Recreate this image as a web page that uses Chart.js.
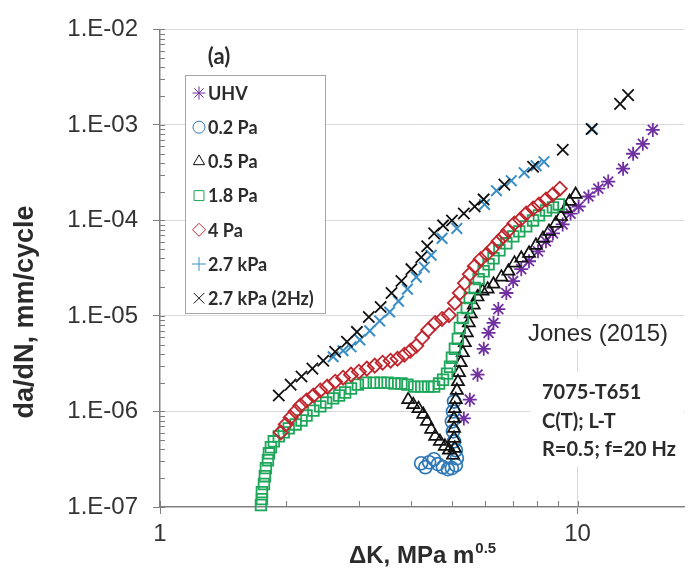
<!DOCTYPE html>
<html>
<head>
<meta charset="utf-8">
<script src="https://cdn.jsdelivr.net/npm/chart.js@4.4.1/dist/chart.umd.min.js"></script>
<style>
  html, body { margin: 0; padding: 0; background: #fff; }
  #wrap { width: 694px; height: 569px; }
</style>
</head>
<body>
<div id="wrap"><canvas id="fcg" width="694" height="569"></canvas></div>
<script>
'use strict';

// ── axis ticks
const dkTicks        = [1, 10];
const dkTickLabels   = ['1', '10'];
const rateTicks      = [1e-7, 1e-6, 1e-5, 1e-4, 1e-3, 1e-2];
const rateTickLabels = ['1.E-07', '1.E-06', '1.E-05', '1.E-04', '1.E-03', '1.E-02'];

const seriesNames = ['UHV', '0.2 Pa', '0.5 Pa', '1.8 Pa', '4 Pa', '2.7 kPa', '2.7 kPa (2Hz)'];

// ── ΔK (MPa m^0.5) vs da/dN (mm/cycle), one pair of arrays per environment
const uhvDK   = [5.34, 5.52, 5.76, 5.96, 6.12, 6.29, 6.46, 6.75, 7.01, 7.33, 7.65, 8.04, 8.40, 8.73, 9.21, 9.62, 10.06, 10.62, 11.21, 11.84, 12.85, 13.58, 14.33, 15.14];
const uhvRate = [8.45e-7, 1.33e-6, 2.43e-6, 4.53e-6, 6.65e-6, 8.45e-6, 1.18e-5, 1.74e-5, 2.32e-5, 3.09e-5, 3.74e-5, 4.75e-5, 6.04e-5, 7.32e-5, 9.09e-5, 1.18e-4, 1.40e-4, 1.78e-4, 2.15e-4, 2.55e-4, 3.48e-4, 4.99e-4, 6.34e-4, 8.87e-4];

const pa02DK   = [4.22, 4.32, 4.41, 4.53, 4.63, 4.76, 4.89, 5.00, 5.11, 5.14, 5.11, 5.06, 5.03, 5.00, 5.03, 5.06];
const pa02Rate = [2.87e-7, 2.61e-7, 2.94e-7, 3.16e-7, 2.81e-7, 2.61e-7, 2.49e-7, 2.55e-7, 2.74e-7, 3.24e-7, 3.93e-7, 4.87e-7, 6.19e-7, 7.86e-7, 1.0e-6, 1.27e-6];

const pa05DK   = [3.93, 4.04, 4.16, 4.27, 4.36, 4.46, 4.56, 4.68, 4.81, 4.92, 5.03, 5.08, 5.06, 5.06, 5.06, 5.08, 5.11, 5.14, 5.17, 5.20, 5.25, 5.31, 5.37, 5.43, 5.49, 5.55, 5.64, 5.76, 5.92, 6.09, 6.29, 6.57, 6.83, 7.06, 7.33, 7.65, 7.95, 8.26, 8.54, 8.87, 9.12, 9.37, 9.57, 9.89];
const pa05Rate = [1.33e-6, 1.18e-6, 1.07e-6, 9.31e-7, 7.86e-7, 6.49e-7, 5.49e-7, 4.87e-7, 4.32e-7, 3.93e-7, 3.48e-7, 4.12e-7, 5.24e-7, 6.65e-7, 8.45e-7, 1.07e-6, 1.33e-6, 1.66e-6, 2.05e-6, 2.55e-6, 3.24e-6, 4.12e-6, 5.24e-6, 6.65e-6, 8.45e-6, 1.05e-5, 1.30e-5, 1.58e-5, 1.82e-5, 1.91e-5, 2.15e-5, 2.55e-5, 2.94e-5, 3.57e-5, 4.02e-5, 4.53e-5, 5.49e-5, 6.49e-5, 7.68e-5, 9.31e-5, 1.10e-4, 1.33e-4, 1.58e-4, 1.87e-4];

const pa18DK   = [1.745, 1.754, 1.754, 1.774, 1.783, 1.793, 1.813, 1.823, 1.843, 1.873, 1.925, 1.978, 2.033, 2.112, 2.182, 2.243, 2.330, 2.420, 2.500, 2.598, 2.685, 2.775, 2.867, 2.978, 3.111, 3.250, 3.376, 3.508, 3.645, 3.786, 3.913, 4.064, 4.223, 4.387, 4.533, 4.659, 4.762, 4.867, 4.948, 5.001, 5.083, 5.167, 5.224, 5.311, 5.428, 5.518, 5.670, 5.795, 5.956, 6.121, 6.290, 6.498, 6.750, 7.015, 7.249, 7.532, 7.822, 8.082, 8.401, 8.727, 9.016];
const pa18Rate = [1.05e-7, 1.21e-7, 1.43e-7, 1.74e-7, 2.10e-7, 2.55e-7, 3.09e-7, 3.65e-7, 4.22e-7, 4.87e-7, 5.49e-7, 6.04e-7, 6.65e-7, 7.32e-7, 8.06e-7, 9.08e-7, 1.02e-6, 1.13e-6, 1.24e-6, 1.37e-6, 1.47e-6, 1.58e-6, 1.74e-6, 1.91e-6, 2.00e-6, 2.00e-6, 2.00e-6, 2.00e-6, 1.96e-6, 1.96e-6, 1.91e-6, 1.82e-6, 1.82e-6, 1.82e-6, 1.82e-6, 1.96e-6, 2.15e-6, 2.49e-6, 2.94e-6, 3.65e-6, 4.53e-6, 5.76e-6, 7.50e-6, 9.53e-6, 1.21e-5, 1.54e-5, 1.96e-5, 2.43e-5, 2.94e-5, 3.48e-5, 4.02e-5, 4.87e-5, 5.76e-5, 6.81e-5, 7.68e-5, 8.66e-5, 1.0e-4, 1.13e-4, 1.27e-4, 1.37e-4, 1.47e-4];

const pa4DK   = [1.946, 2.000, 2.055, 2.112, 2.170, 2.243, 2.330, 2.420, 2.514, 2.627, 2.744, 2.867, 2.994, 3.128, 3.268, 3.413, 3.566, 3.705, 3.848, 3.978, 4.110, 4.246, 4.387, 4.558, 4.736, 4.920, 5.083, 5.224, 5.370, 5.518, 5.670, 5.858, 6.053, 6.254, 6.462, 6.640, 6.825, 7.055, 7.289, 7.532, 7.822, 8.082, 8.401, 8.727, 9.066];
const pa4Rate = [6.04e-7, 7.32e-7, 8.66e-7, 1.0e-6, 1.155e-6, 1.30e-6, 1.47e-6, 1.66e-6, 1.82e-6, 2.05e-6, 2.26e-6, 2.43e-6, 2.61e-6, 2.81e-6, 3.02e-6, 3.24e-6, 3.40e-6, 3.57e-6, 3.93e-6, 4.32e-6, 4.87e-6, 5.90e-6, 7.15e-6, 8.45e-6, 9.31e-6, 1.02e-5, 1.37e-5, 1.74e-5, 2.21e-5, 2.74e-5, 3.32e-5, 3.93e-5, 4.42e-5, 5.11e-5, 6.04e-5, 6.81e-5, 7.86e-5, 9.31e-5, 1.02e-4, 1.18e-4, 1.33e-4, 1.47e-4, 1.66e-4, 1.87e-4, 2.15e-4];

const kpaDK   = [2.598, 2.744, 2.867, 3.010, 3.179, 3.358, 3.547, 3.725, 3.913, 4.110, 4.294, 4.460, 4.736, 5.139, 5.988, 6.393, 6.937, 7.448, 7.953, 8.307, 10.85];
const kpaRate = [3.74e-6, 4.32e-6, 4.75e-6, 5.62e-6, 6.98e-6, 8.87e-6, 1.10e-5, 1.43e-5, 1.91e-5, 2.55e-5, 3.24e-5, 4.32e-5, 6.49e-5, 8.25e-5, 1.47e-4, 2.05e-4, 2.61e-4, 3.16e-4, 3.74e-4, 4.12e-4, 9.08e-4];

const kpa2DK   = [1.925, 2.055, 2.182, 2.317, 2.460, 2.627, 2.804, 2.962, 3.162, 3.376, 3.585, 3.786, 4.000, 4.223, 4.364, 4.533, 4.762, 5.001, 5.340, 5.670, 5.956, 6.677, 7.822, 9.214, 10.80, 12.64, 13.21];
const kpa2Rate = [1.47e-6, 1.91e-6, 2.32e-6, 2.81e-6, 3.40e-6, 4.22e-6, 5.36e-6, 6.81e-6, 9.77e-6, 1.24e-5, 1.74e-5, 2.32e-5, 3.09e-5, 4.12e-5, 5.36e-5, 7.32e-5, 8.87e-5, 1.0e-4, 1.18e-4, 1.40e-4, 1.66e-4, 2.37e-4, 3.65e-4, 5.49e-4, 9.08e-4, 1.66e-3, 2.05e-3];

// marker look per series (legend shape can differ from plotted shape)
const markers = [
  { style: 'star',      legend: 'star',      color: '#7030a0', r: 7,   lw: 1.8 },
  { style: 'circle',    legend: 'circle',    color: '#2e78b7', r: 6.5, lw: 1.7 },
  { style: 'triangle',  legend: 'triangle',  color: '#111111', r: 7,   lw: 1.7 },
  { style: 'rect',      legend: 'rect',      color: '#1ea65a', r: 7.5, lw: 1.8 },
  { style: 'rectRot',   legend: 'rectRot',   color: '#c0262d', r: 7,   lw: 1.8 },
  { style: 'crossRot',  legend: 'cross',     color: '#3a8ec6', r: 7.5, lw: 2 },
  { style: 'crossRot',  legend: 'crossRot',  color: '#111111', r: 8,   lw: 1.8 },
];

const FONT_SANS  = '"Liberation Sans", Arial, sans-serif';
const FONT_LABEL = 'Lato, "Open Sans", sans-serif';
const AXIS_GREY  = '#7f7f7f';
const TEXT_DARK  = '#2b2b2b';

const pts = (xs, ys) => xs.map((x, i) => ({ x, y: ys[i] }));
const seriesData = [
  pts(uhvDK, uhvRate), pts(pa02DK, pa02Rate), pts(pa05DK, pa05Rate), pts(pa18DK, pa18Rate),
  pts(pa4DK, pa4Rate), pts(kpaDK, kpaRate), pts(kpa2DK, kpa2Rate),
];

const datasets = seriesData.map((data, i) => ({
  label: seriesNames[i],
  data,
  pointStyle: markers[i].style,
  pointRadius: markers[i].r,
  pointHoverRadius: markers[i].r,
  pointBorderWidth: markers[i].lw,
  pointBorderColor: markers[i].color,
  pointBackgroundColor: 'rgba(0,0,0,0)',
  showLine: false,
  clip: false,
  order: seriesData.length - i,   // later series drawn on top
}));

// minor ticks inside the frame + the annotation boxes, under the markers
const underlay = {
  id: 'underlay',
  beforeDatasetsDraw(chart) {
    const { ctx, chartArea: a, scales: { x, y } } = chart;
    ctx.save();
    ctx.strokeStyle = AXIS_GREY;
    ctx.lineWidth = 1;
    ctx.beginPath();
    for (let d = 1e-7; d < 1.5e-2; d *= 10) {
      for (let k = 1; k <= 9; k++) {
        const v = d * k;
        if (v > 1.01e-2) break;
        const py = Math.round(y.getPixelForValue(v)) + 0.5;
        ctx.moveTo(a.left, py); ctx.lineTo(a.left + 5, py);
      }
    }
    for (let d = 1; d < 20; d *= 10) {
      for (let k = 1; k <= 9; k++) {
        const v = d * k;
        if (v > x.max) break;
        const px = Math.round(x.getPixelForValue(v)) + 0.5;
        ctx.moveTo(px, a.bottom); ctx.lineTo(px, a.bottom - 6);
      }
    }
    ctx.stroke();

    // white panels behind the notes
    ctx.fillStyle = '#ffffff';
    ctx.fillRect(522, 318, 150, 32);
    ctx.fillRect(530, 372, 153, 95);

    ctx.fillStyle = TEXT_DARK;
    ctx.textBaseline = 'middle';
    ctx.textAlign = 'left';
    ctx.font = '24px ' + FONT_SANS;
    ctx.fillText('Jones (2015)', 528, 334);
    ctx.font = 'bold 20px ' + FONT_LABEL;
    ctx.fillText('7075-T651', 542, 393);
    ctx.fillText('C(T); L-T', 542, 422);
    ctx.fillText('R=0.5; f=20 Hz', 542, 450);
    ctx.restore();
  },
};

// legend box, panel tag and axis titles
const overlay = {
  id: 'overlay',
  afterDraw(chart) {
    const { ctx, chartArea: a } = chart;
    ctx.save();

    // legend inside the plot
    const box = { left: 185.5, top: 75.5, width: 140, height: 238 };
    ctx.fillStyle = '#ffffff';
    ctx.fillRect(box.left, box.top, box.width, box.height);
    ctx.strokeStyle = '#a6a6a6';
    ctx.lineWidth = 1;
    ctx.strokeRect(box.left, box.top, box.width, box.height);
    ctx.font = 'bold 18px ' + FONT_LABEL;
    ctx.textBaseline = 'middle';
    ctx.textAlign = 'left';
    seriesNames.forEach((name, i) => {
      const cy = 93 + i * 34.2;
      const m = markers[i];
      ctx.strokeStyle = m.color;
      ctx.fillStyle = 'rgba(0,0,0,0)';
      Chart.helpers.drawPoint(ctx, { pointStyle: m.legend, radius: m.r - 0.5, rotation: 0, borderWidth: m.lw }, 199, cy);
      ctx.fillStyle = TEXT_DARK;
      ctx.fillText(name, 208, cy + 1);
    });

    ctx.font = 'bold 22px ' + FONT_LABEL;
    ctx.textAlign = 'center';
    ctx.fillText('(a)', 219, 57);

    // x title with superscript exponent
    const main = 'ΔK, MPa m';
    const sup = '0.5';
    ctx.font = 'bold 24px ' + FONT_SANS;
    const wMain = ctx.measureText(main).width;
    ctx.font = 'bold 15px ' + FONT_SANS;
    const wSup = ctx.measureText(sup).width;
    const x0 = (a.left + a.right) / 2 - (wMain + wSup) / 2;
    ctx.textAlign = 'left';
    ctx.textBaseline = 'alphabetic';
    ctx.font = 'bold 24px ' + FONT_SANS;
    ctx.fillText(main, x0, 563);
    ctx.font = 'bold 15px ' + FONT_SANS;
    ctx.fillText(sup, x0 + wMain + 1, 553);

    // y title
    ctx.translate(26, 312);
    ctx.rotate(-Math.PI / 2);
    ctx.textAlign = 'center';
    ctx.textBaseline = 'middle';
    ctx.font = 'bold 27px ' + FONT_SANS;
    ctx.fillText('da/dN, mm/cycle', 0, 0);
    ctx.restore();
  },
};

new Chart(document.getElementById('fcg'), {
  type: 'scatter',
  data: { datasets },
  options: {
    responsive: false,
    devicePixelRatio: 1,
    animation: false,
    events: [],
    layout: { padding: { top: 27, right: 2, left: 0, bottom: 0 } },
    plugins: { legend: { display: false }, tooltip: { enabled: false } },
    scales: {
      x: {
        type: 'logarithmic',
        min: 1,
        max: 18,
        afterBuildTicks: s => { s.ticks = dkTicks.map(v => ({ value: v })); },
        afterFit: s => { s.height = 62; },
        ticks: {
          callback: (v, i) => dkTickLabels[i],
          autoSkip: false,
          maxRotation: 0,
          padding: 6,
          color: '#333333',
          font: { family: FONT_SANS, size: 24 },
        },
        grid: { color: '#d9d9d9', lineWidth: 1, tickLength: 7, tickColor: AXIS_GREY },
        border: { color: AXIS_GREY, width: 1.3 },
      },
      y: {
        type: 'logarithmic',
        min: 1e-7,
        max: 1e-2,
        afterBuildTicks: s => { s.ticks = rateTicks.map(v => ({ value: v })); },
        afterFit: s => { s.width = 160; },
        ticks: {
          callback: (v, i) => rateTickLabels[i],
          autoSkip: false,
          padding: 15,
          color: '#333333',
          font: { family: FONT_SANS, size: 24 },
        },
        grid: { color: '#d9d9d9', lineWidth: 1, tickLength: 7, tickColor: AXIS_GREY },
        border: { color: AXIS_GREY, width: 1.3 },
      },
    },
  },
  plugins: [underlay, overlay],
});
</script>
</body>
</html>
